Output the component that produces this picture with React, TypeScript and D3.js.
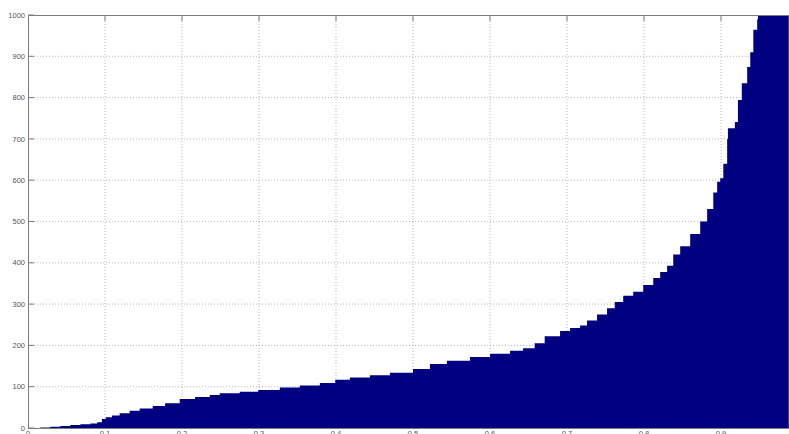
import React from 'react';
import * as d3 from 'd3';

// sorted cumulative curve
const xs = [0, 0.016, 0.029, 0.042, 0.055, 0.068, 0.081, 0.09, 0.096, 0.101, 0.109, 0.119, 0.132, 0.145, 0.162, 0.178, 0.197, 0.217, 0.236, 0.249, 0.275, 0.299, 0.327, 0.353, 0.379, 0.399, 0.418, 0.444, 0.47, 0.5, 0.522, 0.544, 0.574, 0.6, 0.626, 0.643, 0.658, 0.671, 0.691, 0.704, 0.717, 0.726, 0.739, 0.752, 0.762, 0.773, 0.786, 0.799, 0.812, 0.821, 0.83, 0.838, 0.847, 0.86, 0.873, 0.882, 0.89, 0.895, 0.899, 0.903, 0.908, 0.909, 0.918, 0.922, 0.927, 0.934, 0.938, 0.942, 0.947, 0.948, 0.964, 0.988];
const ys = [0, 1, 3, 5, 7, 9, 11, 14, 22, 26, 30, 36, 42, 47, 53, 60, 70, 75, 80, 84, 88, 92, 98, 103, 109, 117, 122, 128, 134, 143, 155, 163, 172, 180, 187, 193, 205, 222, 235, 242, 248, 260, 275, 290, 305, 320, 330, 346, 363, 378, 393, 420, 440, 470, 500, 530, 570, 596, 605, 640, 700, 726, 741, 794, 835, 874, 910, 964, 990, 1100, 1400, 1600];

const yTicks = [0, 100, 200, 300, 400, 500, 600, 700, 800, 900, 1000];
const xTicks = [0, 0.1, 0.2, 0.3, 0.4, 0.5, 0.6, 0.7, 0.8, 0.9, 1];

const W = 789;
const H = 434;
const left = 28;
const top = 15;
const bottom = 428;

export default function App() {
  const x = d3.scaleLinear().domain([0, 1]).range([left, left + 770]);
  const y = d3.scaleLinear().domain([0, 1000]).range([bottom, top]);

  const pts: [number, number][] = xs.map((v, i) => [v, ys[i]]);
  const area = d3.area<[number, number]>()
    .x(d => x(d[0]))
    .y0(y(0))
    .y1(d => y(d[1]))
    .curve(d3.curveStepAfter);

  const axisColor = '#7a7a7a';
  const gridColor = '#b8b8b8';
  const font = '"Liberation Sans", Arial, sans-serif';

  return (
    <svg width={W} height={H} style={{ position: 'absolute', left: 0, top: 0, background: '#fff' }}>
      <defs>
        <clipPath id="plot">
          <rect x={left} y={top} width={W - left} height={bottom - top} />
        </clipPath>
      </defs>
      {yTicks.slice(1, -1).map(t => (
        <line key={'gy' + t} x1={left} x2={W} y1={y(t)} y2={y(t)}
          stroke={gridColor} strokeDasharray="1,2" strokeWidth={1} />
      ))}
      {xTicks.slice(1).map(t => (
        <line key={'gx' + t} x1={x(t)} x2={x(t)} y1={top} y2={bottom}
          stroke={gridColor} strokeDasharray="1,2" strokeWidth={1} />
      ))}
      <path d={area(pts) ?? ''} fill="#000080" clipPath="url(#plot)" />
      <line x1={left} x2={W} y1={top + 0.5} y2={top + 0.5} stroke={axisColor} />
      <line x1={left + 0.5} x2={left + 0.5} y1={top} y2={bottom} stroke={axisColor} />
      <line x1={left} x2={W} y1={bottom + 0.5} y2={bottom + 0.5} stroke={axisColor} />
      {yTicks.map(t => (
        <g key={'ty' + t}>
          <line x1={left} x2={left + 6} y1={y(t)} y2={y(t)} stroke={axisColor} />
          <text x={left - 3} y={y(t)} dy="0.35em" textAnchor="end"
            fontFamily={font} fontSize={7.5} fill="#555">{t}</text>
        </g>
      ))}
      {xTicks.slice(1).map(t => (
        <line key={'tx' + t} x1={x(t)} x2={x(t)} y1={top} y2={top + 6} stroke={axisColor} />
      ))}
      {xTicks.map(t => (
        <text key={'lx' + t} x={x(t)} y={bottom + 3} dy="0.7em" textAnchor="middle"
          fontFamily={font} fontSize={7.5} fill="#555">{t}</text>
      ))}
    </svg>
  );
}
